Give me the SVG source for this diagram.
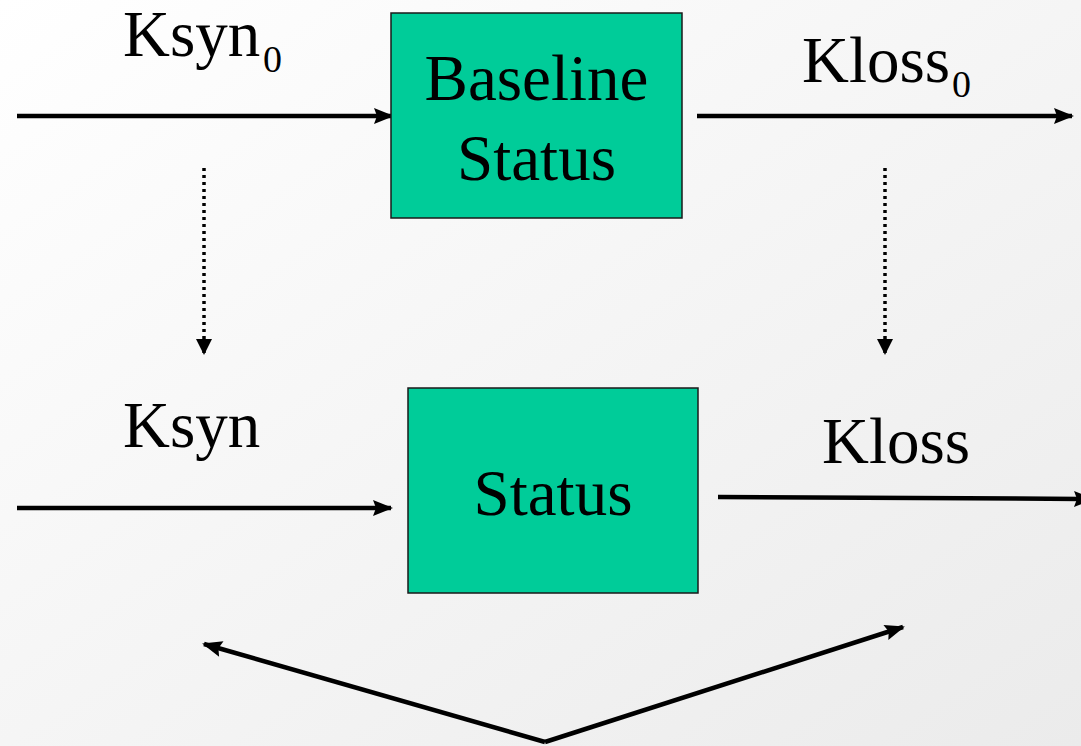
<svg xmlns="http://www.w3.org/2000/svg" width="1081" height="746" viewBox="0 0 1081 746">
<defs>
<linearGradient id="bg" x1="0" y1="0" x2="1" y2="1">
<stop offset="0" stop-color="#ffffff"/>
<stop offset="1" stop-color="#ebebeb"/>
</linearGradient>
<marker id="ah" markerUnits="userSpaceOnUse" viewBox="0 0 20 16" markerWidth="20" markerHeight="16" refX="18" refY="8" orient="auto" overflow="visible">
<path d="M0,0 L20,8 L0,16 L3,8 Z" fill="#000"/>
</marker>
<marker id="ahd" markerUnits="userSpaceOnUse" viewBox="0 0 16 16" markerWidth="16" markerHeight="16" refX="15" refY="8" orient="auto" overflow="visible">
<path d="M0,0 L16,8 L0,16 Z" fill="#000"/>
</marker>
<style>
.box{fill:#00CC99;stroke:#1a1a1a;stroke-width:1.5}
.t{font-family:"Liberation Serif","Times New Roman",serif;font-size:65px;fill:#000}
.sub{font-family:"Liberation Serif","Times New Roman",serif;font-size:38px;fill:#000}
.a{stroke:#000;stroke-width:4.5;fill:none;marker-end:url(#ah)}
.d{stroke:#000;stroke-width:3.5;stroke-dasharray:3 4;fill:none;marker-end:url(#ahd)}
</style>
</defs>
<rect width="1081" height="746" fill="url(#bg)"/>
<g id="connectors">
<line class="a" x1="17" y1="116" x2="392" y2="116"/>
<line class="a" x1="697" y1="116" x2="1072" y2="116"/>
<line class="a" x1="17" y1="508" x2="391" y2="508"/>
<line class="a" x1="718" y1="497" x2="1092" y2="499"/>
<line class="d" x1="204" y1="168" x2="204" y2="354"/>
<line class="d" x1="885" y1="168" x2="885" y2="354"/>
<line class="a" x1="545" y1="742" x2="204" y2="644"/>
<line class="a" x1="545" y1="742" x2="903" y2="627"/>
</g>
<g id="label-ksyn0"><text class="t" x="123" y="56">Ksyn</text><text class="sub" x="263" y="72">0</text></g>
<g id="label-kloss0"><text class="t" x="802" y="82">Kloss</text><text class="sub" x="952" y="97">0</text></g>
<g id="label-ksyn"><text class="t" x="123" y="447">Ksyn</text></g>
<g id="label-kloss"><text class="t" x="822" y="463">Kloss</text></g>
<g id="node-baseline">
<rect class="box" x="391" y="13" width="291" height="205"/>
<text class="t" x="536.5" y="100" text-anchor="middle">Baseline</text>
<text class="t" x="536.5" y="180" text-anchor="middle">Status</text>
</g>
<g id="node-status">
<rect class="box" x="408" y="388" width="290" height="205"/>
<text class="t" x="553" y="515" text-anchor="middle">Status</text>
</g>
</svg>
